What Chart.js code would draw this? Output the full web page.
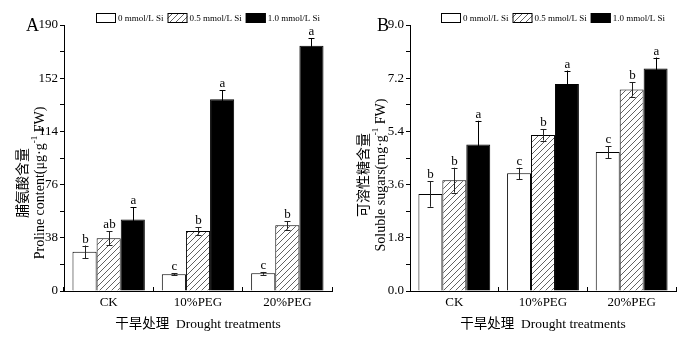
<!DOCTYPE html>
<html><head><meta charset="utf-8">
<script src="https://cdn.jsdelivr.net/npm/chart.js@4.4.0/dist/chart.umd.min.js"></script>
<style>
html,body{margin:0;padding:0;background:#fff;}
#wrap{position:relative;width:688px;height:337px;overflow:hidden;}
.c{position:absolute;top:0;width:344px;height:337px;}
</style></head><body>
<div id="wrap">
<div class="c" style="left:0"><canvas id="cA" width="344" height="337"></canvas></div>
<div class="c" style="left:344px"><canvas id="cB" width="344" height="337"></canvas></div>
</div>
<script>
// ---------- data ----------
const categories = ['CK', '10%PEG', '20%PEG'];
const seriesNames = ['0 mmol/L Si', '0.5 mmol/L Si', '1.0 mmol/L Si'];

const prolineSi0  = [28.0, 12.0, 12.6];
const prolineSi05 = [37.6, 42.9, 46.9];
const prolineSi10 = [51.0, 137.0, 175.2];
const prolineErr0  = [4.5, 0.6, 1.0];
const prolineErr05 = [5.0, 2.7, 3.0];
const prolineErr10 = [9.0, 6.4, 5.3];
const prolineLetters0  = ['b', 'c', 'c'];
const prolineLetters05 = ['ab', 'b', 'b'];
const prolineLetters10 = ['a', 'a', 'a'];
const prolineTicks = [0, 38, 76, 114, 152, 190];

const sugarSi0  = [3.28, 3.98, 4.70];
const sugarSi05 = [3.75, 5.28, 6.82];
const sugarSi10 = [4.96, 7.00, 7.53];
const sugarErr0  = [0.43, 0.19, 0.20];
const sugarErr05 = [0.42, 0.19, 0.24];
const sugarErr10 = [0.80, 0.46, 0.37];
const sugarLetters0  = ['b', 'c', 'c'];
const sugarLetters05 = ['b', 'b', 'b'];
const sugarLetters10 = ['a', 'a', 'a'];
const sugarTicks = [0.0, 1.8, 3.6, 5.4, 7.2, 9.0];

// ---------- styling ----------
const SERIF = "'Liberation Serif', 'Times New Roman', serif";
const CJK = "'Noto Sans CJK SC', 'Noto Sans', sans-serif";
const MIXED = "'Liberation Serif', 'Noto Sans CJK SC', serif";

function makeHatch(ctx) {
  const s = 6;
  const c = document.createElement('canvas');
  c.width = s; c.height = s;
  const x = c.getContext('2d');
  x.fillStyle = '#fff'; x.fillRect(0, 0, s, s);
  x.strokeStyle = '#3a3a3a'; x.lineWidth = 0.8;
  x.beginPath();
  x.moveTo(0, s); x.lineTo(s, 0);
  x.moveTo(-1, 1); x.lineTo(1, -1);
  x.moveTo(s - 1, s + 1); x.lineTo(s + 1, s - 1);
  x.stroke();
  return ctx.createPattern(c, 'repeat');
}

const errBarPlugin = {
  id: 'errBars',
  afterDatasetsDraw(chart) {
    const ctx = chart.ctx;
    const ys = chart.scales.y;
    const errs = chart.options.plugins.errBars.errors;
    const letters = chart.options.plugins.errBars.letters;
    ctx.save();
    chart.data.datasets.forEach((ds, i) => {
      const meta = chart.getDatasetMeta(i);
      meta.data.forEach((el, j) => {
        const v = ds.data[j], e = errs[i][j];
        const yt = ys.getPixelForValue(v + e);
        const yb = ys.getPixelForValue(v - e);
        const x = Math.round(el.x) + 0.5;
        ctx.strokeStyle = i === 2 ? '#000' : '#222';
        ctx.lineWidth = 1;
        ctx.beginPath();
        ctx.moveTo(x, yt); ctx.lineTo(x, yb);
        ctx.moveTo(x - 3, Math.round(yt) + 0.5); ctx.lineTo(x + 3, Math.round(yt) + 0.5);
        ctx.moveTo(x - 3, Math.round(yb) + 0.5); ctx.lineTo(x + 3, Math.round(yb) + 0.5);
        ctx.stroke();
        ctx.fillStyle = '#000';
        ctx.font = '13px ' + SERIF;
        ctx.textAlign = 'center';
        ctx.textBaseline = 'alphabetic';
        ctx.fillText(letters[i][j], x, yt - 3);
      });
    });
    ctx.restore();
  }
};

const decorPlugin = {
  id: 'decor',
  afterDraw(chart) {
    const o = chart.options.plugins.decor;
    const ctx = chart.ctx;
    ctx.save();
    // panel letter
    ctx.fillStyle = '#000';
    ctx.font = '18px ' + SERIF;
    ctx.textAlign = 'right';
    ctx.textBaseline = 'middle';
    ctx.fillText(o.panel, o.panelX, 26);
    // legend
    let lx = o.legendX;
    const ly = 13;
    ctx.font = '9px ' + SERIF;
    ctx.textAlign = 'left';
    ctx.textBaseline = 'middle';
    chart.data.datasets.forEach((ds) => {
      ctx.fillStyle = ds.backgroundColor;
      ctx.fillRect(lx, ly, 20, 10);
      ctx.strokeStyle = '#000';
      ctx.lineWidth = 1;
      ctx.strokeRect(lx + 0.5, ly + 0.5, 19, 9);
      ctx.fillStyle = '#000';
      ctx.fillText(ds.label, lx + 22, ly + 5.5);
      lx += 22 + ctx.measureText(ds.label).width + 4;
    });
    // y-axis title (two rotated lines)
    const yc = o.titleY;
    ctx.save();
    ctx.translate(o.cnX, yc);
    ctx.rotate(-Math.PI / 2);
    ctx.font = '14px ' + CJK;
    ctx.textAlign = 'center';
    ctx.textBaseline = 'middle';
    ctx.fillText(o.cnTitle, 0, 0);
    ctx.restore();
    ctx.save();
    ctx.translate(o.enX, yc);
    ctx.rotate(-Math.PI / 2);
    ctx.textBaseline = 'middle';
    ctx.textAlign = 'left';
    const f1 = '14px ' + SERIF, f2 = '9px ' + SERIF;
    ctx.font = f1; const w1 = ctx.measureText(o.enPre).width; const w3 = ctx.measureText(o.enPost).width;
    ctx.font = f2; const w2 = ctx.measureText('-1').width;
    let sx = -(w1 + w2 + w3) / 2;
    ctx.font = f1; ctx.fillText(o.enPre, sx, 0); sx += w1;
    ctx.font = f2; ctx.fillText('-1', sx, -5); sx += w2;
    ctx.font = f1; ctx.fillText(o.enPost, sx, 0);
    ctx.restore();
    ctx.restore();
  }
};

function withMinor(major) {
  const out = [];
  for (let i = 0; i < major.length; i++) {
    out.push(major[i]);
    if (i < major.length - 1) out.push((major[i] + major[i + 1]) / 2);
  }
  return out;
}

function buildChart(id, cfg) {
  const canvas = document.getElementById(id);
  const ctx = canvas.getContext('2d');
  const hatch = makeHatch(ctx);
  const majors = cfg.ticks;
  const allTicks = withMinor(majors);
  return new Chart(ctx, {
    type: 'bar',
    data: {
      labels: categories,
      datasets: [
        { label: seriesNames[0], data: cfg.s0, backgroundColor: '#ffffff', borderColor: '#000', borderWidth: 1 },
        { label: seriesNames[1], data: cfg.s1, backgroundColor: hatch, borderColor: '#000', borderWidth: 1 },
        { label: seriesNames[2], data: cfg.s2, backgroundColor: '#000000', borderColor: '#000', borderWidth: 1 }
      ]
    },
    options: {
      responsive: false,
      animation: false,
      devicePixelRatio: 1,
      layout: { padding: { left: 0, right: 12, top: 25, bottom: 0 } },
      datasets: { bar: { categoryPercentage: 0.81, barPercentage: 1.0, borderSkipped: 'start' } },
      plugins: {
        legend: { display: false },
        tooltip: { enabled: false },
        errBars: { errors: cfg.errs, letters: cfg.letters },
        decor: cfg.decor
      },
      scales: {
        x: {
          grid: { display: true, drawOnChartArea: false, offset: true, tickLength: -4, color: '#000', tickColor: '#000', tickWidth: 1 },
          border: { display: true, color: '#000', width: 1 },
          ticks: { color: '#000', font: { family: SERIF, size: 13 }, padding: 8, maxRotation: 0 },
          title: { display: true, text: '干旱处理  Drought treatments', color: '#000', font: { family: MIXED, size: 13.5 }, padding: { top: 0, bottom: 4 } },
          afterFit(s) { s.height = 46; }
        },
        y: {
          min: 0, max: majors[majors.length - 1],
          grid: { display: true, drawOnChartArea: false, tickLength: 4, color: '#000', tickColor: '#000', tickWidth: 1 },
          border: { display: true, color: '#000', width: 1 },
          afterBuildTicks(s) { s.ticks = allTicks.map(v => ({ value: v })); },
          ticks: {
            color: '#000', font: { family: SERIF, size: 13 }, padding: 2,
            callback(v) {
              const m = majors.find(t => Math.abs(t - v) < 1e-6);
              return m === undefined ? '' : cfg.fmt(m);
            }
          },
          afterFit(s) { s.width = cfg.yWidth; }
        }
      }
    },
    plugins: [errBarPlugin, decorPlugin]
  });
}

buildChart('cA', {
  s0: prolineSi0, s1: prolineSi05, s2: prolineSi10,
  errs: [prolineErr0, prolineErr05, prolineErr10],
  letters: [prolineLetters0, prolineLetters05, prolineLetters10],
  ticks: prolineTicks, fmt: v => String(Math.round(v)), yWidth: 64,
  decor: { panel: 'A', panelX: 39, legendX: 96, titleY: 183, cnX: 22, enX: 40,
           cnTitle: '脯氨酸含量', enPre: 'Proline content(μg·g', enPost: ' FW)' }
});
buildChart('cB', {
  s0: sugarSi0, s1: sugarSi05, s2: sugarSi10,
  errs: [sugarErr0, sugarErr05, sugarErr10],
  letters: [sugarLetters0, sugarLetters05, sugarLetters10],
  ticks: sugarTicks, fmt: v => v.toFixed(1), yWidth: 66,
  decor: { panel: 'B', panelX: 45, legendX: 97, titleY: 175, cnX: 19, enX: 37,
           cnTitle: '可溶性糖含量', enPre: 'Soluble sugars(mg·g', enPost: ' FW)' }
});
</script>
</body></html>
